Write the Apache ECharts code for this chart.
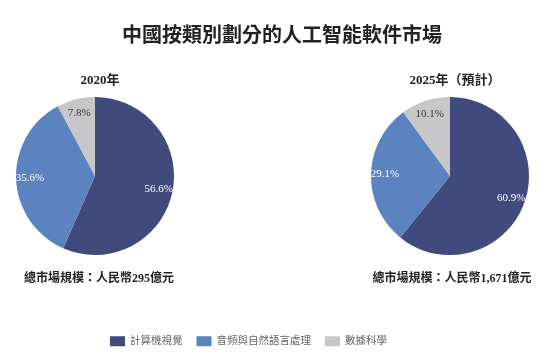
<!DOCTYPE html>
<html>
<head>
<meta charset="utf-8">
<script src="https://cdn.jsdelivr.net/npm/echarts@6/dist/echarts.min.js"></script>
<style>
html,body{margin:0;padding:0;background:#fff;}
#chart{width:556px;height:360px;}
</style>
</head>
<body>
<div id="chart"></div>
<script>
const categories = ['計算機視覺', '音頻與自然語言處理', '數據科學'];
const share2020 = [56.6, 35.6, 7.8];
const share2025 = [60.9, 29.1, 10.1];
const yearLabels = ['2020年', '2025年（預計）'];
const totalLabels = ['總市場規模：人民幣295億元', '總市場規模：人民幣1,671億元'];
const colors = ['#414a7c', '#5b83bf', '#c7c7c9'];
const labelColors = ['#ffffff', '#ffffff', '#333333'];

const FONT = '"Liberation Serif", "Noto Sans CJK TC", serif';
const centers = [[95, 176], [450, 176]];
const R = 79;

function mainSeries(vals, c) {
  return {
    type: 'pie', center: c, radius: [0, R], startAngle: 90, clockwise: true,
    label: { show: false }, labelLine: { show: false }, silent: true,
    emphasis: { disabled: true },
    data: categories.map((n, i) => ({ name: n, value: vals[i], itemStyle: { color: colors[i] } }))
  };
}
function labelSeries(vals, c) {
  return {
    type: 'pie', center: c, radius: [45, R], startAngle: 90, clockwise: true,
    silent: true, emphasis: { disabled: true },
    itemStyle: { color: 'rgba(0,0,0,0)' },
    labelLine: { show: false },
    label: { show: true, position: 'inside', fontFamily: FONT, fontSize: 11,
      formatter: p => p.value + '%' },
    data: categories.map((n, i) => ({ name: n, value: vals[i], label: { color: labelColors[i] } }))
  };
}

const chart = echarts.init(document.getElementById('chart'), null, { renderer: 'canvas' });
chart.setOption({
  backgroundColor: '#fff',
  animation: false,
  title: [
    { text: '中國按類別劃分的人工智能軟件市場', left: 277, top: 22, textAlign: 'center',
      textStyle: { fontFamily: FONT, fontSize: 20, fontWeight: 'bold', color: '#222' } },
    { text: yearLabels[0], left: 95, top: 69, textAlign: 'center',
      textStyle: { fontFamily: FONT, fontSize: 13, fontWeight: 'bold', color: '#222' } },
    { text: yearLabels[1], left: 450, top: 69, textAlign: 'center',
      textStyle: { fontFamily: FONT, fontSize: 13, fontWeight: 'bold', color: '#222' } },
    { text: totalLabels[0], left: 94, top: 268, textAlign: 'center',
      textStyle: { fontFamily: FONT, fontSize: 12, fontWeight: 'bold', color: '#222' } },
    { text: totalLabels[1], left: 447, top: 268, textAlign: 'center',
      textStyle: { fontFamily: FONT, fontSize: 12, fontWeight: 'bold', color: '#222' } }
  ],
  legend: {
    data: categories, left: 105, top: 331, itemWidth: 15, itemHeight: 10, itemGap: 14,
    icon: 'rect', selectedMode: false,
    textStyle: { fontFamily: FONT, fontSize: 10.5, color: '#666' }
  },
  series: [
    mainSeries(share2020, centers[0]),
    mainSeries(share2025, centers[1]),
    labelSeries(share2020, centers[0]),
    labelSeries(share2025, centers[1])
  ]
});
</script>
</body>
</html>
